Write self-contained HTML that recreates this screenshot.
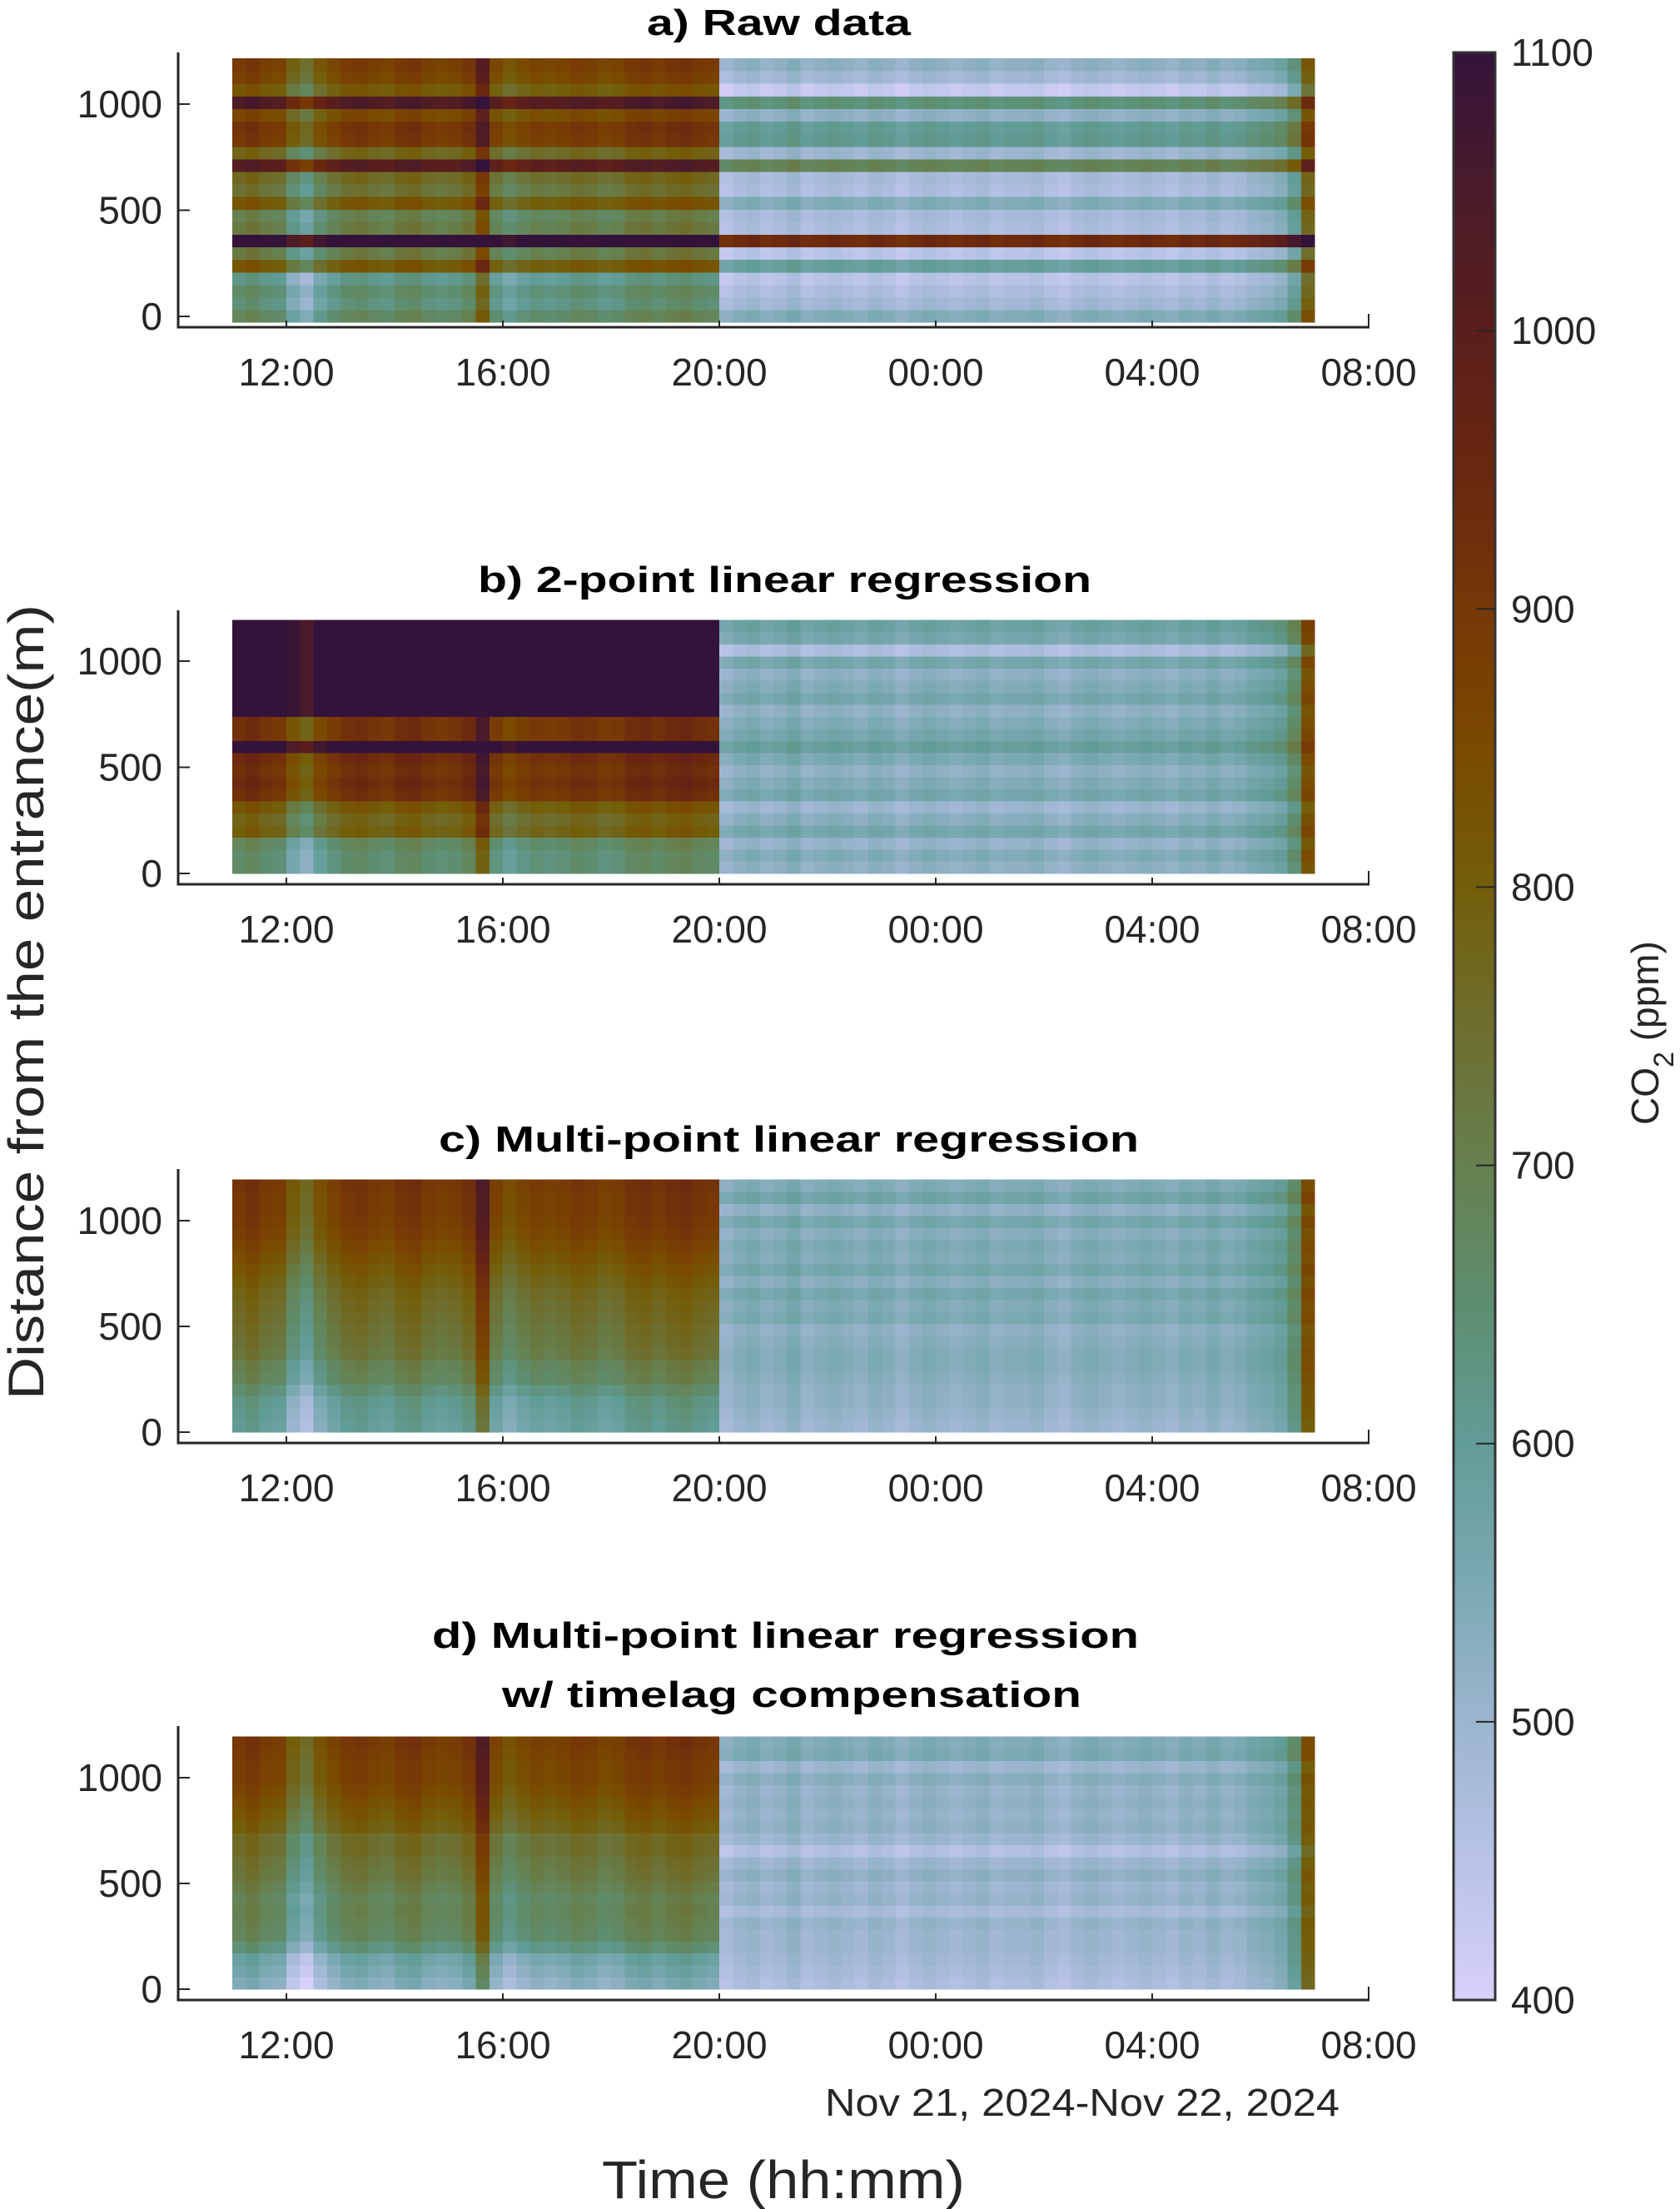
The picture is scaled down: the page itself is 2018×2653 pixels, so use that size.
<!DOCTYPE html>
<html><head><meta charset="utf-8"><title>CO2 heatmaps</title>
<style>
html,body{margin:0;padding:0;background:#fff;}
svg{display:block;}
text{font-family:"Liberation Sans",sans-serif;fill:#262626;}
.t{font-weight:bold;fill:#000;font-size:44px;}
.tick{font-size:46px;}
</style></head>
<body>
<svg id="fig" xmlns="http://www.w3.org/2000/svg" width="2018" height="2653" viewBox="0 0 2018 2653">
<defs>
<linearGradient id="cmap" x1="0" y1="1" x2="0" y2="0">
<stop offset="0" stop-color="#d8d0fa"/><stop offset="0.0714" stop-color="#b8c3e6"/>
<stop offset="0.1429" stop-color="#9cb5cf"/><stop offset="0.2143" stop-color="#7ba9b2"/>
<stop offset="0.2857" stop-color="#629c97"/><stop offset="0.3571" stop-color="#5e8e70"/>
<stop offset="0.4286" stop-color="#66804f"/><stop offset="0.5" stop-color="#6e6e2e"/>
<stop offset="0.5714" stop-color="#735e0a"/><stop offset="0.6429" stop-color="#7a4a00"/>
<stop offset="0.7143" stop-color="#773707"/><stop offset="0.7857" stop-color="#6a2710"/>
<stop offset="0.8571" stop-color="#5a1e1c"/><stop offset="0.9286" stop-color="#4a1b2a"/>
<stop offset="1" stop-color="#34133a"/>
</linearGradient>
</defs>
<g id="panels"></g>
<text class="t" x="777" y="42" textLength="317" lengthAdjust="spacingAndGlyphs">a) Raw data</text>
<text class="t" x="574" y="711" textLength="737" lengthAdjust="spacingAndGlyphs">b) 2-point linear regression</text>
<text class="t" x="527" y="1383" textLength="841" lengthAdjust="spacingAndGlyphs">c) Multi-point linear regression</text>
<text class="t" x="519" y="1979" textLength="849" lengthAdjust="spacingAndGlyphs">d) Multi-point linear regression</text>
<text class="t" x="603" y="2050" textLength="696" lengthAdjust="spacingAndGlyphs">w/ timelag compensation</text>
<text transform="translate(52,1681) rotate(-90)" font-size="60" textLength="955" lengthAdjust="spacingAndGlyphs">Distance from the entrance(m)</text>
<text x="723" y="2640" font-size="64" textLength="436" lengthAdjust="spacingAndGlyphs">Time (hh:mm)</text>
<text x="991" y="2541" font-size="46" textLength="618" lengthAdjust="spacingAndGlyphs">Nov 21, 2024-Nov 22, 2024</text>
<rect x="1746" y="63" width="50" height="2339" fill="url(#cmap)" stroke="#333" stroke-width="3"/>
<g id="cbticks"></g>
<text transform="translate(1992,1351) rotate(-90)" font-size="46">CO<tspan font-size="34" dy="18">2</tspan><tspan dy="-18"> (ppm)</tspan></text>
</svg>
<script>
// ---- data (rows bottom -> top, 21 distance rows) ----
const xTickLabels = ["12:00","16:00","20:00","00:00","04:00","08:00"];
const yTickValues = [0,500,1000];
const cbTickValues = [400,500,600,700,800,900,1000,1100];
const rowsA_day   = [640,600,620,580,780,680,1100,680,660,780,700,730,980,740,860,870,820,1000,780,830,850];
const rowsA_night = [540,490,470,450,590,450,940,470,480,540,470,480,690,500,610,600,520,640,430,490,520];
const rowsB_day   = [620,620,640,760,740,780,880,900,880,900,1100,880,880,1150,1150,1150,1150,1150,1150,1150,1150];
const rowsB_night = [520,540,510,560,530,500,560,540,520,550,590,560,540,520,560,540,520,560,470,560,580];
const rowsC_day   = [560,570,580,610,650,660,690,700,710,720,730,740,760,780,800,820,840,850,860,860,870];
const rowsC_night = [500,510,520,520,530,540,540,530,520,550,540,560,530,560,540,550,530,560,520,570,540];
const rowsD_day   = [500,520,540,600,640,650,660,650,670,690,700,720,720,760,780,800,820,840,840,850,860];
const rowsD_night = [470,480,490,500,500,510,480,510,500,520,500,460,500,520,510,520,510,530,500,550,540];
// time-column anomalies, 15-min columns from 11:00 to 07:00 (80 cols)
const colAnom = [40,60,30,20, -60,-100,-30,10, 40,50,30,20, 50,60,30,20, 30,60,170,10,
  -30,0,20,10, 20,40,30,10, 20,50,60,40, 60,70,50,40,
  -20,0,10,-10,0,20,-10,0,10,0,-10,10,0,-20,0,10,0,-10,0,10,-10,0,0,10,-10,-20,0,10,0,-10,0,10,0,-10,10,0,20,0,10,30,
  40,60,120,300];
const startHour = 11, colHours = 0.25, dayCols = 36;

const NS="http://www.w3.org/2000/svg";
const stops=[[400,"#d8d0fa"],[450,"#b8c3e6"],[500,"#9cb5cf"],[550,"#7ba9b2"],[600,"#629c97"],[650,"#5e8e70"],[700,"#66804f"],[750,"#6e6e2e"],[800,"#735e0a"],[850,"#7a4a00"],[900,"#773707"],[950,"#6a2710"],[1000,"#5a1e1c"],[1050,"#4a1b2a"],[1100,"#34133a"]];
function hex(h){return [1,3,5].map(i=>parseInt(h.substr(i,2),16));}
function cmap(v){v=Math.max(400,Math.min(1100,v));for(let i=0;i<stops.length-1;i++){if(v<=stops[i+1][0]){const t=(v-stops[i][0])/(stops[i+1][0]-stops[i][0]);const a=hex(stops[i][1]),b=hex(stops[i+1][1]);return "rgb("+a.map((x,k)=>Math.round(x+(b[k]-x)*t)).join(",")+")";}}return stops[stops.length-1][1];}
function xScale(h){return 344+(h-12)*65;}
function mk(tag,attrs,parent){const e=document.createElementNS(NS,tag);for(const k in attrs)e.setAttribute(k,attrs[k]);parent.appendChild(e);return e;}

const panels=[
 {id:"a",day:rowsA_day,night:rowsA_night,zero:380,m1000:125,rowLo:-28,rowHi:1216,axisY:393,axisTop:63},
 {id:"b",day:rowsB_day,night:rowsB_night,zero:1049,m1000:794,rowLo:0,rowHi:1195,axisY:1062,axisTop:733},
 {id:"c",day:rowsC_day,night:rowsC_night,zero:1720,m1000:1466,rowLo:0,rowHi:1195,axisY:1733,axisTop:1404},
 {id:"d",day:rowsD_day,night:rowsD_night,zero:2389,m1000:2135,rowLo:0,rowHi:1195,axisY:2402,axisTop:2073}
];
const root=document.getElementById("panels");
panels.forEach(p=>{
  const yS=m=>p.zero+(p.m1000-p.zero)*m/1000;
  const g=mk("g",{},root);
  
  
  const hm=mk("g",{"shape-rendering":"crispEdges"},g);
  
  
  const nr=p.day.length, rh=(p.rowHi-p.rowLo)/nr;
  for(let c=0;c<colAnom.length;c++){
    const x0=xScale(startHour+c*colHours), x1=xScale(startHour+(c+1)*colHours);
    for(let r=0;r<nr;r++){
      const base=c<dayCols?p.day[r]:p.night[r];
      const v=base+colAnom[c];
      const y0=yS(p.rowLo+(r+1)*rh), y1=yS(p.rowLo+r*rh);
      const rc=mk("rect",{x:x0.toFixed(2),y:y0.toFixed(2),width:(x1-x0+0.6).toFixed(2),height:(y1-y0+0.6).toFixed(2),fill:cmap(v)},hm);
      
      
    }
  }
  const ax=mk("path",{d:`M214 ${p.axisTop} V${p.axisY} H1645`,fill:"none",stroke:"#262626","stroke-width":3},g);
  
  
  xTickLabels.forEach((lab,i)=>{
    const x=344+260*i;
    const tk=mk("line",{x1:x,x2:x,y1:p.axisY,y2:p.axisY-(i==5?16:8),stroke:"#262626","stroke-width":2},g);
    
    
    const t=mk("text",{x:x,y:p.axisY+70,"text-anchor":"middle",class:"tick"},g);
    t.textContent=lab;
    
    
  });
  yTickValues.forEach(v=>{
    const y=yS(v);
    const tk=mk("line",{x1:214,x2:228,y1:y,y2:y,stroke:"#262626","stroke-width":2},g);
    
    
    const t=mk("text",{x:195,y:y+16,"text-anchor":"end",class:"tick"},g);
    t.textContent=v;
    
    
  });
});
const cb=document.getElementById("cbticks");
cbTickValues.forEach(v=>{
  const y=2402-(v-400)*2339/700;
  if(v>400&&v<1100){
    const tk=mk("line",{x1:1773,x2:1796,y1:y,y2:y,stroke:"#262626","stroke-width":2},cb);
    
    
  }
  const t=mk("text",{x:1815,y:y+16,class:"tick"},cb);
  t.textContent=v;
  
  
});
</script>
</body></html>
